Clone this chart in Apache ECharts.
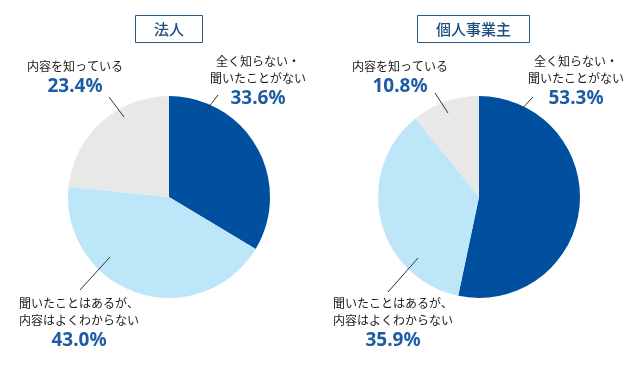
<!DOCTYPE html>
<html>
<head>
<meta charset="utf-8">
<script src="https://cdn.jsdelivr.net/npm/echarts@6/dist/echarts.min.js"></script>
<style>
  html, body { margin: 0; padding: 0; background: #fff; }
  #chart { width: 640px; height: 375px; }
</style>
</head>
<body>
<div id="chart"></div>
<script>
// groups and answer categories
var groups = ['法人', '個人事業主']
var categories = ['全く知らない・\n聞いたことがない', '聞いたことはあるが、\n内容はよくわからない', '内容を知っている']
var corpValues = [33.6, 43.0, 23.4]
var soleValues = [53.3, 35.9, 10.8]
var colors = ['#00509f', '#bde6f8', '#e8e8e8']

// label block positions (center x, top y) and leader lines (inner end, outer end), per pie
var labelPos = [
  [[258, 53], [79, 295], [75, 58]],
  [[576, 53], [393, 295], [400, 58]],
]
var linePts = [
  [[[205, 112], [218, 95]], [[110, 257], [80, 290]], [[124, 117], [109, 97]]],
  [[[517, 114], [533, 97]], [[418, 258], [388, 292]], [[448, 113], [435, 93]]],
]
var centers = [[169, 197], [479, 197]]

var chart = echarts.init(document.getElementById('chart'))

function midPoint(a, b) {
  return [(a[0] + b[0]) / 2, (a[1] + b[1]) / 2]
}

// the coloured pie itself
function makePie(values, idx) {
  return {
    type: 'pie',
    center: centers[idx],
    radius: 101,
    startAngle: 90,
    clockwise: true,
    silent: true,
    animation: false,
    z: 2,
    label: { show: false },
    labelLine: { show: false },
    data: values.map(function (v, i) {
      return { name: categories[i], value: v, itemStyle: { color: colors[i] } }
    }),
  }
}

// a see-through copy on top that carries the labels, so the leader lines sit above the slices
function makeLabels(values, idx) {
  return {
    type: 'pie',
    center: centers[idx],
    radius: 101,
    startAngle: 90,
    clockwise: true,
    silent: true,
    animation: false,
    avoidLabelOverlap: false,
    z: 10,
    data: values.map(function (v, i) {
      return { name: categories[i], value: v, itemStyle: { color: 'rgba(0,0,0,0)' } }
    }),
    label: {
      show: true,
      position: 'outside',
      align: 'center',
      overflow: 'none',
      formatter: function (p) {
        return '{n|' + p.name.split('\n').join('}\n{n|') + '}\n{p|' + p.value.toFixed(1) + '%}'
      },
      rich: {
        n: {
          fontFamily: 'Noto Sans CJK JP',
          fontSize: 12,
          color: '#1a1a1a',
          lineHeight: 17,
          align: 'center',
        },
        p: {
          fontFamily: 'Noto Sans',
          fontSize: 19,
          fontWeight: 'bold',
          color: '#1d5ca3',
          lineHeight: 24,
          align: 'center',
        },
      },
    },
    labelLine: {
      show: true,
      smooth: false,
      lineStyle: { color: '#333', width: 1 },
    },
    labelLayout: function (params) {
      var pos = labelPos[idx][params.dataIndex]
      var seg = linePts[idx][params.dataIndex]
      return {
        x: pos[0],
        y: pos[1],
        align: 'center',
        verticalAlign: 'top',
        hideOverlap: false,
        labelLinePoints: [seg[0], midPoint(seg[0], seg[1]), seg[1]],
      }
    },
  }
}

function makeTitle(text, left) {
  return {
    text: text,
    left: left,
    top: 15,
    padding: [5, 19, 5, 19],
    borderColor: '#2b5b84',
    borderWidth: 1,
    textStyle: {
      fontFamily: 'Noto Sans CJK JP',
      fontSize: 15,
      fontWeight: 500,
      color: '#1f4e7c',
      lineHeight: 18,
    },
  }
}

chart.setOption({
  backgroundColor: '#fff',
  title: [makeTitle(groups[0], 135), makeTitle(groups[1], 417)],
  series: [
    makePie(corpValues, 0),
    makePie(soleValues, 1),
    makeLabels(corpValues, 0),
    makeLabels(soleValues, 1),
  ],
})
</script>
</body>
</html>
